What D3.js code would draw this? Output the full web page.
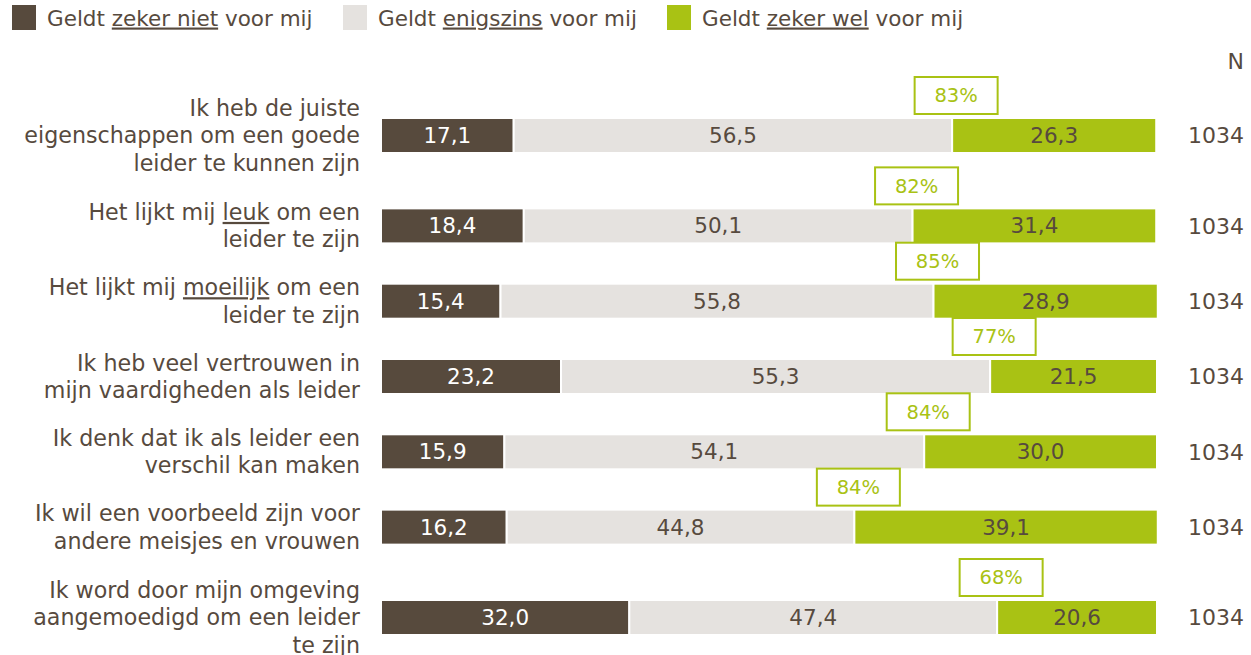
<!DOCTYPE html>
<html>
<head>
<meta charset="utf-8">
<script src="https://cdn.jsdelivr.net/npm/d3@7"></script>
<style>
  html, body { margin: 0; padding: 0; background: #fff; }
  svg { display: block; font-family: "DejaVu Sans", Verdana, sans-serif; }
  .u { text-decoration: underline; }
</style>
</head>
<body>
<svg id="chart" width="1251" height="655"></svg>
<script>
// statements, one entry per line, words between _ _ are underlined
const statements = [
  ["Ik heb de juiste", "eigenschappen om een goede", "leider te kunnen zijn"],
  ["Het lijkt mij _leuk_ om een", "leider te zijn"],
  ["Het lijkt mij _moeilijk_ om een", "leider te zijn"],
  ["Ik heb veel vertrouwen in", "mijn vaardigheden als leider"],
  ["Ik denk dat ik als leider een", "verschil kan maken"],
  ["Ik wil een voorbeeld zijn voor", "andere meisjes en vrouwen"],
  ["Ik word door mijn omgeving", "aangemoedigd om een leider", "te zijn"]
];
const zekerNiet  = [17.1, 18.4, 15.4, 23.2, 15.9, 16.2, 32.0];
const enigszins  = [56.5, 50.1, 55.8, 55.3, 54.1, 44.8, 47.4];
const zekerWel   = [26.3, 31.4, 28.9, 21.5, 30.0, 39.1, 20.6];
const totals     = [83, 82, 85, 77, 84, 84, 68];
const nValues    = [1034, 1034, 1034, 1034, 1034, 1034, 1034];
const legendLabels = ["Geldt _zeker niet_ voor mij", "Geldt _enigszins_ voor mij", "Geldt _zeker wel_ voor mij"];

const colors = ["#574a3d", "#e5e2df", "#a9c214"];
const textColor = "#574a3e";

const svg = d3.select("#chart");

// put "_word_" parts into underlined tspans
function richText(sel, str) {
  str.split("_").forEach((part, i) => {
    if (!part) return;
    const t = sel.append("tspan").text(part);
    if (i % 2 === 1) t.attr("class", "u");
  });
}

// legend
const legendX = [12, 343, 667];
const lg = svg.append("g").selectAll("g")
  .data(legendLabels)
  .enter().append("g")
  .attr("transform", (d, i) => `translate(${legendX[i]},0)`);
lg.append("rect")
  .attr("x", 0).attr("y", 5)
  .attr("width", 24).attr("height", 25)
  .attr("fill", (d, i) => colors[i]);
lg.append("text")
  .attr("x", 35).attr("y", 18).attr("dy", "0.35em")
  .style("font-size", "21.5px")
  .attr("fill", textColor)
  .each(function(d) { richText(d3.select(this), d); });

// row positions: rows with longer labels get more room
const gaps = statements.slice(1).map((s, i) => Math.max(s.length, statements[i].length) + 3);
const units = [0];
gaps.forEach(g => units.push(units[units.length - 1] + g));

const y = d3.scaleLinear()
  .domain([0, units[units.length - 1]])
  .range([135.5, 617.5]);
const x = d3.scaleLinear().domain([0, 100]).range([381, 1157]);
const barH = 35;
const fmt = v => d3.format(".1f")(v).replace(".", ",");

const rows = statements.map((lines, i) => ({
  lines,
  cy: y(units[i]),
  segs: [zekerNiet[i], enigszins[i], zekerWel[i]],
  total: totals[i],
  n: nValues[i]
}));

const row = svg.append("g").selectAll("g")
  .data(rows)
  .enter().append("g")
  .attr("transform", d => `translate(0,${d.cy})`);

// statement labels
row.each(function(d) {
  const g = d3.select(this);
  d.lines.forEach((line, k) => {
    const t = g.append("text")
      .attr("x", 360)
      .attr("y", (k - (d.lines.length - 1) / 2) * 27.5)
      .attr("dy", "0.35em")
      .attr("text-anchor", "end")
      .style("font-size", "22.2px")
      .attr("fill", textColor);
    richText(t, line);
  });
});

// stacked segments
row.each(function(d) {
  const g = d3.select(this);
  let start = 0;
  const parts = d.segs.map((v, j) => {
    const p = { start, v, j };
    start += v;
    return p;
  });
  const seg = g.selectAll(".seg").data(parts).enter().append("g").attr("class", "seg");
  seg.append("rect")
    .attr("x", p => x(p.start))
    .attr("y", -barH / 2)
    .attr("width", p => x(p.start + p.v) - x(p.start))
    .attr("height", barH)
    .attr("fill", p => colors[p.j])
    .attr("stroke", "#fff")
    .attr("stroke-width", 2);
  seg.append("text")
    .attr("x", p => (x(p.start) + x(p.start + p.v)) / 2)
    .attr("y", 0)
    .attr("dy", "0.35em")
    .attr("text-anchor", "middle")
    .style("font-size", "21.5px")
    .attr("fill", p => p.j === 0 ? "#fff" : textColor)
    .text(p => fmt(p.v));

  // total box above start of green segment
  const bx = x(d.segs[0] + d.segs[1]) + 4;
  const box = g.append("g").attr("transform", `translate(${bx},${-barH / 2 - 4 - 18.5})`);
  box.append("rect")
    .attr("x", -41.5).attr("y", -18.5)
    .attr("width", 83).attr("height", 37)
    .attr("fill", "#fff")
    .attr("stroke", colors[2])
    .attr("stroke-width", 2);
  box.append("text")
    .attr("text-anchor", "middle")
    .attr("dy", "0.35em")
    .style("font-size", "19.5px")
    .attr("fill", colors[2])
    .text(d.total + "%");
});

// N column
svg.append("text")
  .attr("x", 1244).attr("y", 61).attr("dy", "0.35em")
  .attr("text-anchor", "end")
  .style("font-size", "22px")
  .attr("fill", textColor)
  .text("N");
row.append("text")
  .attr("x", 1244).attr("y", 0).attr("dy", "0.35em")
  .attr("text-anchor", "end")
  .style("font-size", "22px")
  .attr("fill", textColor)
  .text(d => d.n);
</script>
</body>
</html>
